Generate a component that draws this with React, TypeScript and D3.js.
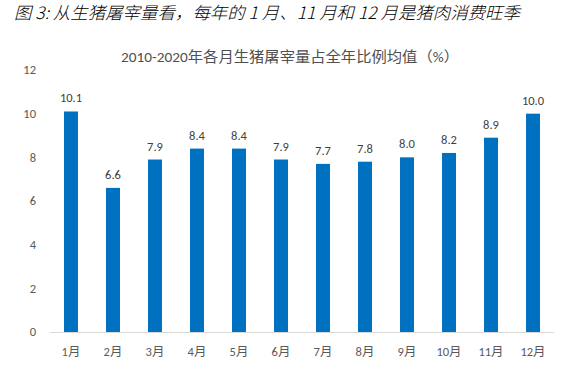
import React from "react";
import * as d3 from "d3";

const categories = ["1月", "2月", "3月", "4月", "5月", "6月", "7月", "8月", "9月", "10月", "11月", "12月"];
const values = [10.1, 6.6, 7.9, 8.4, 8.4, 7.9, 7.7, 7.8, 8.0, 8.2, 8.9, 10.0];
const yTicks = [0, 2, 4, 6, 8, 10, 12];
const title = "图 3: 从生猪屠宰量看，每年的 1 月、11 月和 12 月是猪肉消费旺季";
const subtitle = "2010-2020年各月生猪屠宰量占全年比例均值（%）";

export default function App() {
  const W = 578, H = 367;
  const left = 50, right = 554, top = 70, bottom = 332;
  const x = d3.scaleBand<string>().domain(categories).range([left, right]).paddingInner(0.667).paddingOuter(0.333);
  const y = d3.scaleLinear().domain([0, 12]).range([bottom, top]);
  const font = "'Calibri', 'Carlito', 'Noto Sans CJK SC', 'Noto Sans', sans-serif";
  return (
    <svg width={W} height={H} style={{ position: "absolute", left: 0, top: 0, background: "#fff" }}>
      <text x={14} y={19} fontSize={17} fontStyle="italic" fontWeight={300} fill="#000" fontFamily="'Noto Sans CJK SC', sans-serif" textLength={506} lengthAdjust="spacingAndGlyphs">{title}</text>
      <text x={290} y={62} fontSize={14.5} textAnchor="middle" fill="#505050" fontFamily={font} fontWeight={400} textLength={338} lengthAdjust="spacingAndGlyphs">{subtitle}</text>
      {yTicks.map((t) => (
        <text key={t} x={36} y={y(t)} dy="0.35em" textAnchor="end" fontSize={12.5} fill="#595959" fontFamily={font}>{t}</text>
      ))}
      <line x1={left} x2={right} y1={bottom + 0.5} y2={bottom + 0.5} stroke="#d9d9d9" strokeWidth={1} />
      {categories.map((c, i) => (
        <g key={c}>
          <rect x={x(c)} y={y(values[i])} width={x.bandwidth()} height={bottom - y(values[i])} fill="#0070C0" />
          <text x={(x(c) as number) + x.bandwidth() / 2} y={y(values[i]) - 9} textAnchor="middle" fontSize={12.5} fill="#404040" fontFamily={font}>{values[i].toFixed(1)}</text>
          <text x={(x(c) as number) + x.bandwidth() / 2} y={352} dy="0.35em" textAnchor="middle" fontSize={12.5} fill="#595959" fontFamily={font}>{c}</text>
        </g>
      ))}
    </svg>
  );
}
